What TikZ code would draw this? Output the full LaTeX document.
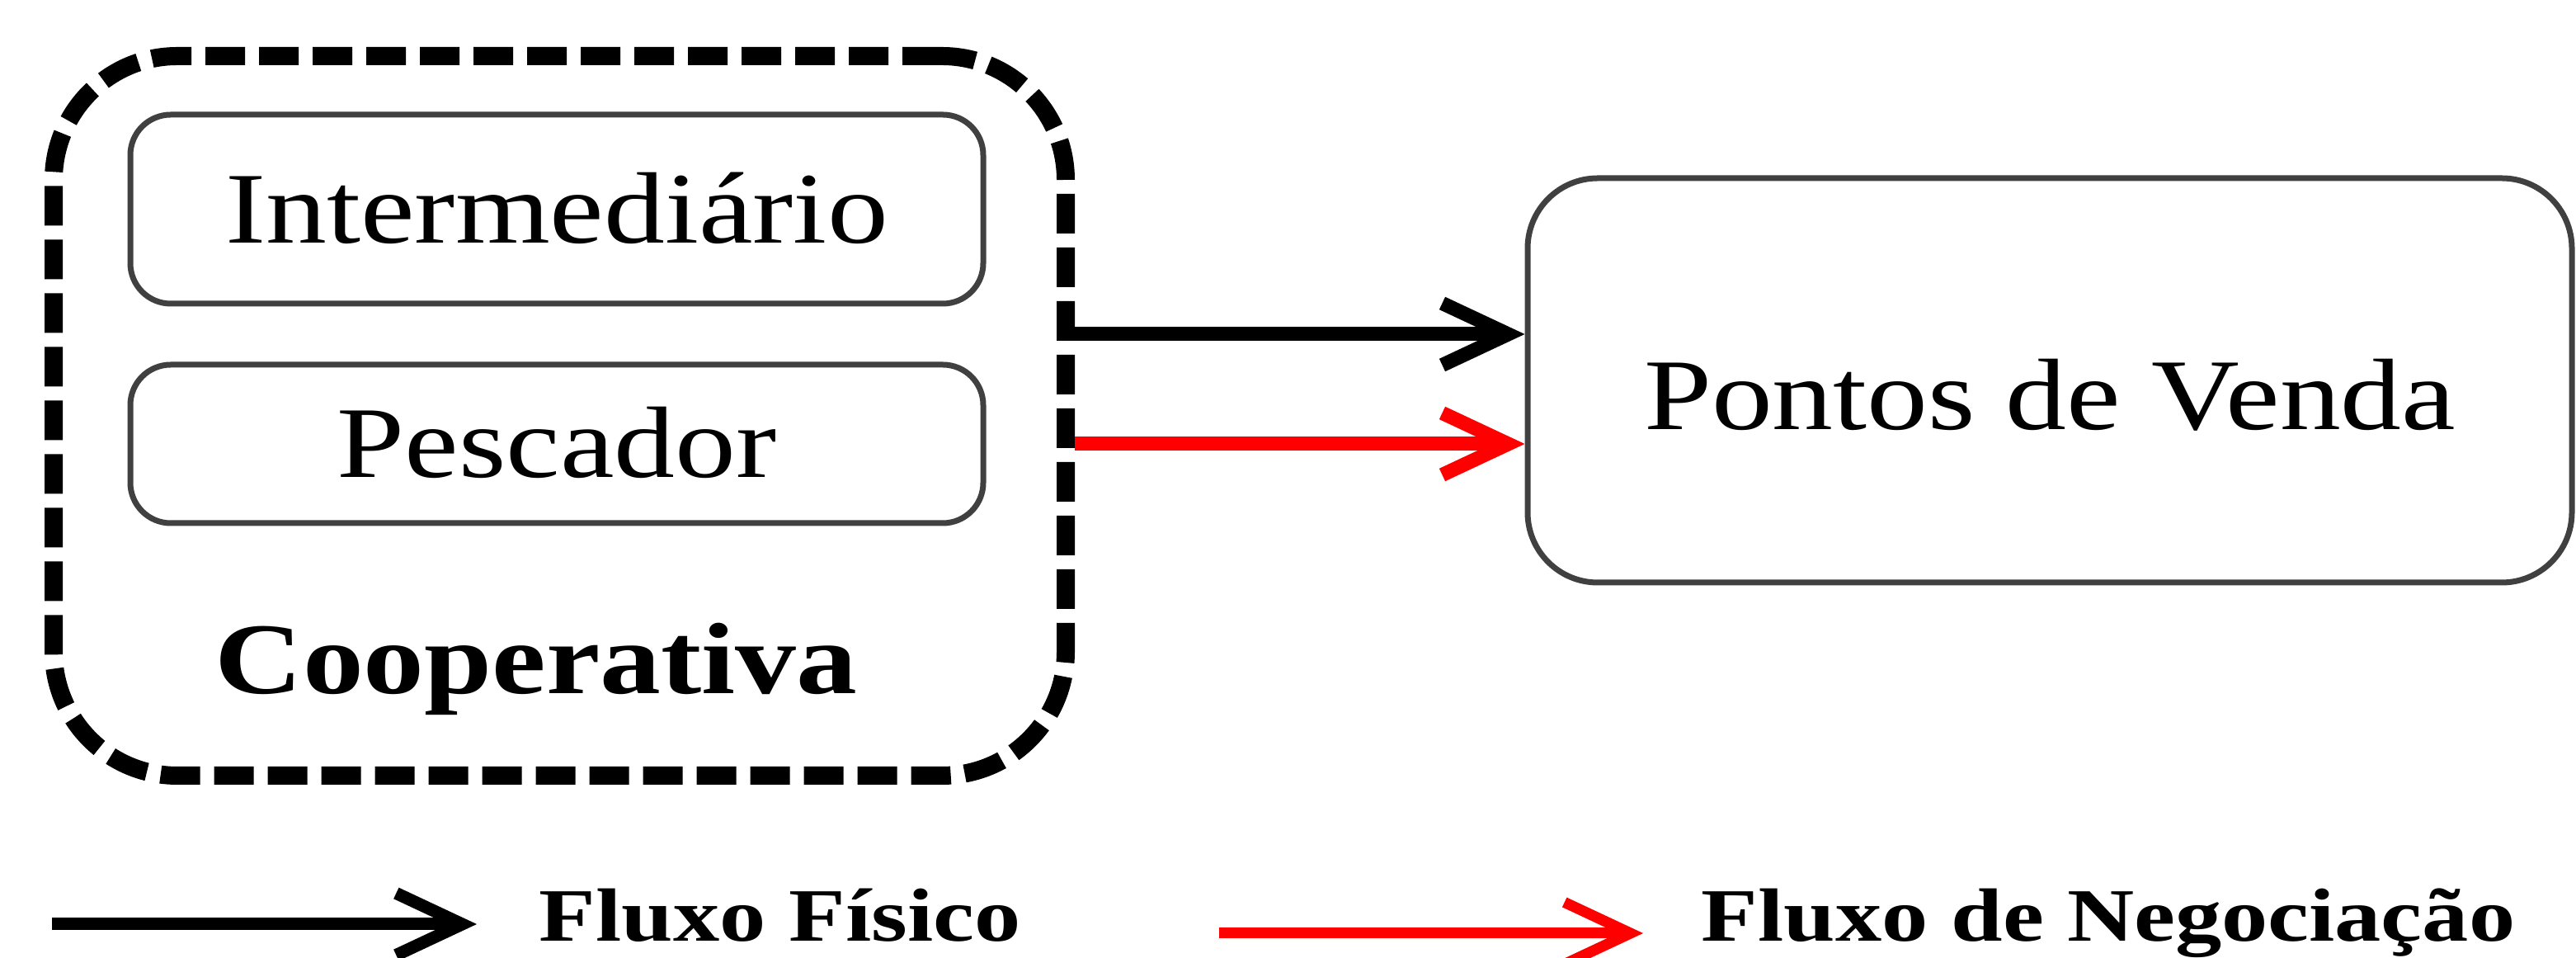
\documentclass[tikz,border=0pt]{standalone}
\usepackage{fontspec}
\setmainfont{Liberation Serif}
\usetikzlibrary{arrows.meta,positioning,calc}
\newcommand{\largo}[2][1.2]{\scalebox{#1}[1]{#2}}

\begin{document}
\begin{tikzpicture}[>=Stealth,
  caixa/.style={draw=black!75,line width=.07cm,rounded corners=.49cm,minimum width=10.34cm,
    inner sep=0pt,text height=.82cm,text depth=0pt,font=\fontsize{35}{42}\selectfont},
  fluxofis/.style={line width=.17cm,-{Straight Barb[length=.8cm,width=.75cm]}},
  fluxoneg/.style={fluxofis,red},
  legfis/.style={line width=.15cm,-{Straight Barb[length=.8cm,width=.75cm]}},
  legneg/.style={legfis,red,line width=.13cm},
  legtexto/.style={anchor=base west,inner sep=0pt,font=\bfseries\fontsize{26}{31}\selectfont}]
\useasboundingbox (0,0) rectangle (31.23,11.61);
\node[draw,line width=.22cm,dash pattern=on .48cm off .17cm,rounded corners=1.5cm,
  minimum width=12.27cm,minimum height=8.72cm,inner sep=0pt] (coop) at (6.785,6.57) {};
\node[caixa,minimum height=2.29cm] (inter) at (6.75,9.075) {\largo{Intermediário}};
\node[caixa,minimum height=1.92cm] (pesc) at (6.75,6.23) {\largo{Pescador}};
\node[anchor=base,inner sep=0pt,font=\bfseries\fontsize{35}{42}\selectfont] (coopnome) at (6.50,3.20) {\largo{Cooperativa}};
\node[caixa,rounded corners=.85cm,minimum width=12.66cm,minimum height=4.9cm,text height=1.2cm] (pv) at (24.85,7.0) {\largo{Pontos de Venda}};
\coordinate (meio) at ($(inter.south)!.5!(pesc.north)$);
\draw[fluxofis] (meio -| coop.east) -- (meio -| pv.west);
\draw[fluxoneg] (pesc -| coop.east) -- (pesc -| pv.west);
% legenda
\coordinate (fis0) at (0.63,0.41);
\coordinate (fis1) at (5.78,0.41);
\coordinate (neg0) at (14.78,0.30);
\coordinate (neg1) at (19.92,0.30);
\draw[legfis] (fis0) -- (fis1);
\node[legtexto] (fistxt) at (6.53,0.2) {\largo[1.23]{Fluxo Físico}};
\draw[legneg] (neg0) -- (neg1);
\node[legtexto] (negtxt) at (20.62,0.2) {\largo[1.23]{Fluxo de Negociação}};
\end{tikzpicture}
\end{document}
